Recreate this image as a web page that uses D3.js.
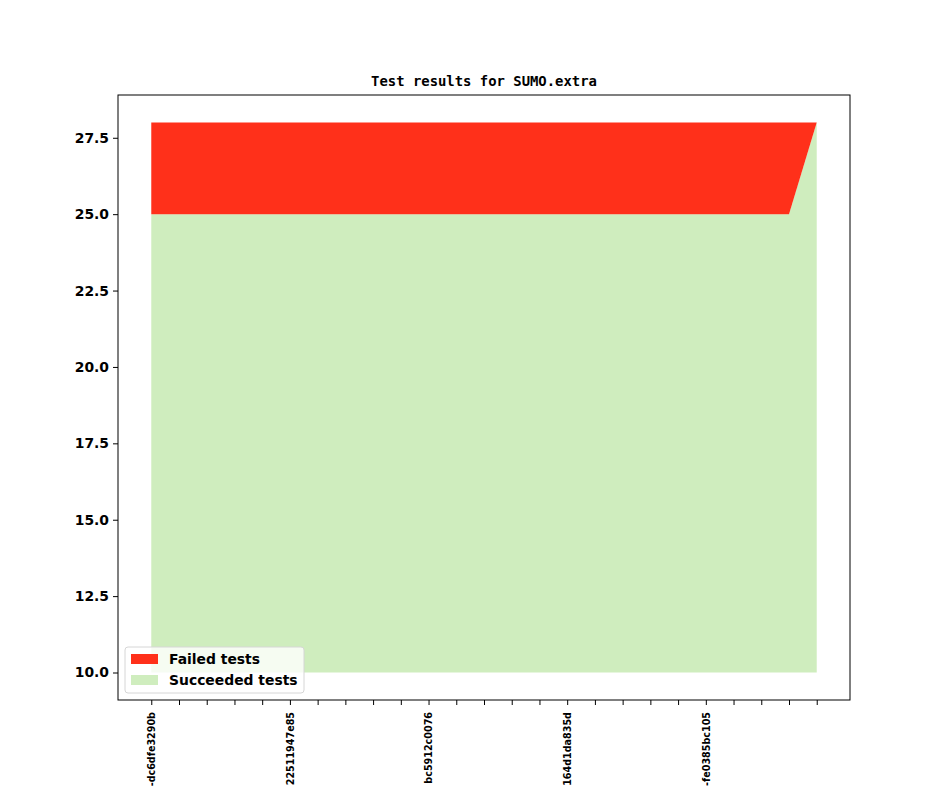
<!DOCTYPE html>
<html>
<head>
<meta charset="utf-8">
<script src="https://cdn.jsdelivr.net/npm/d3@7"></script>
<style>
  body { margin: 0; background: #fff; }
  svg { display: block; }
</style>
</head>
<body>
<svg id="chart" width="944" height="787"></svg>
<script>
// commit labels (only every 5th is shown on the axis)
const commits = [
  '-dc6dfe3290b', '', '', '', '',
  '22511947e85', '', '', '', '',
  'bc5912c0076', '', '', '', '',
  '164d1da835d', '', '', '', '',
  '-fe0385bc105', '', '', '', ''
];
const succeeded = [25, 25, 25, 25, 25, 25, 25, 25, 25, 25, 25, 25, 25, 25, 25, 25, 25, 25, 25, 25, 25, 25, 25, 25, 28];
const failed = [3, 3, 3, 3, 3, 3, 3, 3, 3, 3, 3, 3, 3, 3, 3, 3, 3, 3, 3, 3, 3, 3, 3, 3, 0];
const floor = 10;
const yTicks = [10.0, 12.5, 15.0, 17.5, 20.0, 22.5, 25.0, 27.5];
const seriesNames = ['Failed tests', 'Succeeded tests'];

const RED = '#ff301a';
const GREEN = '#cfedbe';

const svg = d3.select('#chart');
const margin = {left: 118, right: 94, top: 95, bottom: 87};
const width = 944 - margin.left - margin.right;
const height = 787 - margin.top - margin.bottom;

const n = succeeded.length;
const x = d3.scaleLinear()
  .domain([-(n - 1) * 0.05, (n - 1) * 1.05])
  .range([margin.left, margin.left + width]);

const yMax = d3.max(succeeded.map((s, i) => s + failed[i]));
const pad = (yMax - floor) * 0.05;
const y = d3.scaleLinear()
  .domain([floor - pad, yMax + pad])
  .range([margin.top + height, margin.top]);

const rows = succeeded.map((s, i) => ({i, s, f: failed[i]}));

const areaOk = d3.area()
  .x(d => x(d.i))
  .y0(y(floor))
  .y1(d => y(d.s));

const areaFail = d3.area()
  .x(d => x(d.i))
  .y0(d => y(d.s))
  .y1(d => y(d.s + d.f));

svg.append('path')
  .datum(rows)
  .attr('d', areaOk)
  .attr('fill', GREEN);

svg.append('path')
  .datum(rows)
  .attr('d', areaFail)
  .attr('fill', RED);

// axes
const yAxis = d3.axisLeft(y)
  .tickValues(yTicks)
  .tickFormat(d3.format('.1f'))
  .tickSize(5)
  .tickPadding(4);

svg.append('g')
  .attr('transform', `translate(${margin.left},0)`)
  .call(yAxis)
  .call(g => g.select('.domain').remove())
  .call(g => g.selectAll('text')
    .attr('font-family', 'DejaVu Sans')
    .attr('font-weight', 'bold')
    .attr('font-size', '13.9px')
    .attr('fill', '#000'));

const xAxis = d3.axisBottom(x)
  .tickValues(d3.range(n))
  .tickFormat(i => commits[i])
  .tickSize(5);

svg.append('g')
  .attr('transform', `translate(0,${margin.top + height})`)
  .call(xAxis)
  .call(g => g.select('.domain').remove())
  .call(g => g.selectAll('text')
    .attr('font-family', 'DejaVu Sans')
    .attr('font-weight', 'bold')
    .attr('font-size', '9.6px')
    .attr('fill', '#000')
    .attr('text-anchor', 'end')
    .attr('dy', '0.35em')
    .attr('transform', 'rotate(-90)')
    .attr('x', -12)
    .attr('y', 0));

svg.append('rect')
  .attr('x', margin.left)
  .attr('y', margin.top)
  .attr('width', width)
  .attr('height', height)
  .attr('fill', 'none')
  .attr('stroke', '#000')
  .attr('stroke-width', 1);

svg.append('text')
  .attr('x', margin.left + width / 2)
  .attr('y', 86)
  .attr('text-anchor', 'middle')
  .attr('font-family', 'DejaVu Sans Mono')
  .attr('font-weight', 'bold')
  .attr('font-size', '13.9px')
  .text('Test results for SUMO.extra');

// legend
const legend = svg.append('g')
  .attr('transform', 'translate(125,647)');

legend.append('rect')
  .attr('width', 179)
  .attr('height', 46)
  .attr('rx', 3)
  .attr('fill', '#fff')
  .attr('fill-opacity', 0.8)
  .attr('stroke', '#d6d6d6');

const items = legend.selectAll('g.item')
  .data(seriesNames)
  .join('g')
  .attr('class', 'item')
  .attr('transform', (d, i) => `translate(6,${7 + i * 21})`);

items.append('rect')
  .attr('width', 27)
  .attr('height', 10)
  .attr('fill', (d, i) => i === 0 ? RED : GREEN);

items.append('text')
  .attr('x', 38)
  .attr('y', 5)
  .attr('dy', '0.35em')
  .attr('font-family', 'DejaVu Sans')
  .attr('font-weight', 'bold')
  .attr('font-size', '13.9px')
  .text(d => d);
</script>
</body>
</html>
